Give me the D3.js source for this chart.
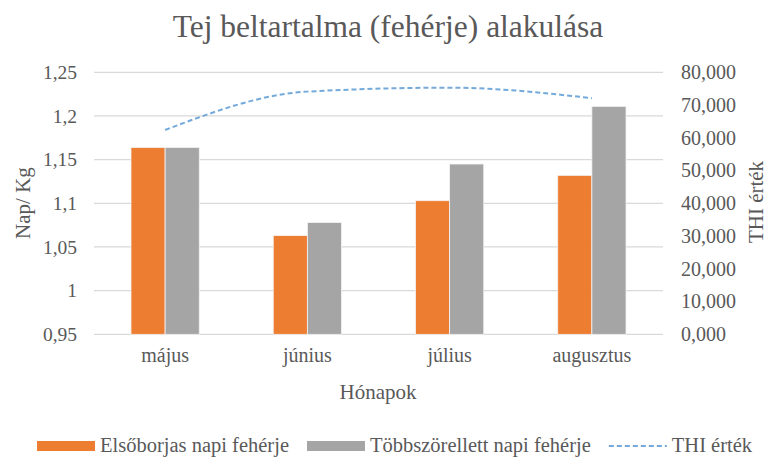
<!DOCTYPE html>
<html>
<head>
<meta charset="utf-8">
<script src="https://cdn.jsdelivr.net/npm/d3@7"></script>
<style>
  html, body { margin: 0; padding: 0; background: #fff; }
  svg { display: block; }
  svg text { font-family: "Liberation Serif", "Times New Roman", serif !important; fill: #595959; }
</style>
</head>
<body>
<svg id="chart" width="768" height="457"></svg>
<script>
const months = ["május", "június", "július", "augusztus"];
const elsoborjas = [1.164, 1.063, 1.103, 1.132];
const tobbszorellett = [1.164, 1.078, 1.145, 1.211];
const thi = [62.4, 74.1, 75.3, 72.1];
const leftTicks = [0.95, 1, 1.05, 1.1, 1.15, 1.2, 1.25];
const rightTicks = [0, 10, 20, 30, 40, 50, 60, 70, 80];
const seriesNames = ["Elsőborjas napi fehérje", "Többszörellett napi fehérje", "THI érték"];
const colors = ["#ED7D31", "#A5A5A5", "#5B9BD5"];

const FONT = '"Liberation Serif", "Times New Roman", serif';
const svg = d3.select("#chart").attr("font-family", FONT);
const m = { left: 94, right: 663, top: 72.3, bottom: 334.3 };

const x = d3.scaleBand().domain(months).range([m.left, m.right]).paddingInner(0.52).paddingOuter(0.26);
const xInner = d3.scaleBand().domain([0, 1]).range([0, x.bandwidth()]);
const yL = d3.scaleLinear().domain([0.95, 1.25]).range([m.bottom, m.top]);
const yR = d3.scaleLinear().domain([0, 80]).range([m.bottom, m.top]);

// gridlines
svg.append("g").selectAll("line").data(leftTicks).join("line")
  .attr("x1", m.left).attr("x2", m.right)
  .attr("y1", d => yL(d)).attr("y2", d => yL(d))
  .attr("stroke", "#D9D9D9").attr("stroke-width", 1.3);

function styleAxis(size) {
  return g => {
    g.attr("font-family", FONT);
    g.select(".domain").remove();
    g.selectAll("text").attr("font-family", FONT).style("font-size", size + "px").attr("fill", "#595959");
  };
}

// left axis
const fmtL = d => String(d).replace(".", ",");
svg.append("g").attr("transform", `translate(${m.left},0)`)
  .call(d3.axisLeft(yL).tickValues(leftTicks).tickSize(0).tickPadding(17).tickFormat(fmtL))
  .call(styleAxis(19.5));

// right axis
svg.append("g").attr("transform", `translate(${m.right},0)`)
  .call(d3.axisRight(yR).tickValues(rightTicks).tickSize(0).tickPadding(18).tickFormat(d => d3.format(".3f")(d).replace(".", ",")))
  .call(styleAxis(20));

// bars
const data = months.map((mo, i) => ({ mo, vals: [elsoborjas[i], tobbszorellett[i]] }));
const groups = svg.append("g").selectAll("g").data(data).join("g")
  .attr("transform", d => `translate(${x(d.mo)},0)`);
groups.selectAll("rect").data(d => d.vals.map((v, k) => ({ v, k }))).join("rect")
  .attr("x", d => xInner(d.k)).attr("width", xInner.bandwidth())
  .attr("y", d => yL(d.v)).attr("height", d => yL(0.95) - yL(d.v))
  .attr("fill", d => colors[d.k]).attr("stroke", "#f4f4f4").attr("stroke-width", 0.8);

// THI line
const line = d3.line().x((d, i) => x(months[i]) + x.bandwidth() / 2).y(d => yR(d)).curve(d3.curveMonotoneX);
svg.append("path").datum(thi).attr("d", line)
  .attr("fill", "none").attr("stroke", colors[2]).attr("stroke-width", 2).attr("stroke-dasharray", "5,3").attr("opacity", 0.85);

// x axis labels
svg.append("g").attr("transform", `translate(0,${m.bottom})`)
  .call(d3.axisBottom(x).tickSize(0).tickPadding(14))
  .call(styleAxis(20));

// titles
svg.append("text").attr("x", 388).attr("y", 37).attr("text-anchor", "middle")
  .style("font-size", "31.5px").text("Tej beltartalma (fehérje) alakulása");
svg.append("text").attr("x", 378).attr("y", 399).attr("text-anchor", "middle")
  .style("font-size", "21px").text("Hónapok");
svg.append("text").attr("transform", "translate(30,203) rotate(-90)").attr("text-anchor", "middle")
  .style("font-size", "21px").text("Nap/ Kg");
svg.append("text").attr("transform", "translate(763,202) rotate(-90)").attr("text-anchor", "middle")
  .style("font-size", "21px").text("THI érték");

// legend
const leg = svg.append("g");
let lx = 37;
const ly = 446;
seriesNames.forEach((name, i) => {
  if (i < 2) {
    leg.append("rect").attr("x", lx).attr("y", ly - 5).attr("width", 58).attr("height", 10).attr("fill", colors[i]);
  } else {
    leg.append("line").attr("x1", lx).attr("x2", lx + 58).attr("y1", ly).attr("y2", ly)
      .attr("stroke", colors[i]).attr("stroke-width", 2).attr("stroke-dasharray", "5,3").attr("opacity", 0.85);
  }
  const t = leg.append("text").attr("x", lx + 63).attr("y", ly + 6).style("font-size", "20.5px").text(name);
  lx += 63 + t.node().getComputedTextLength() + 18;
});
</script>
</body>
</html>
